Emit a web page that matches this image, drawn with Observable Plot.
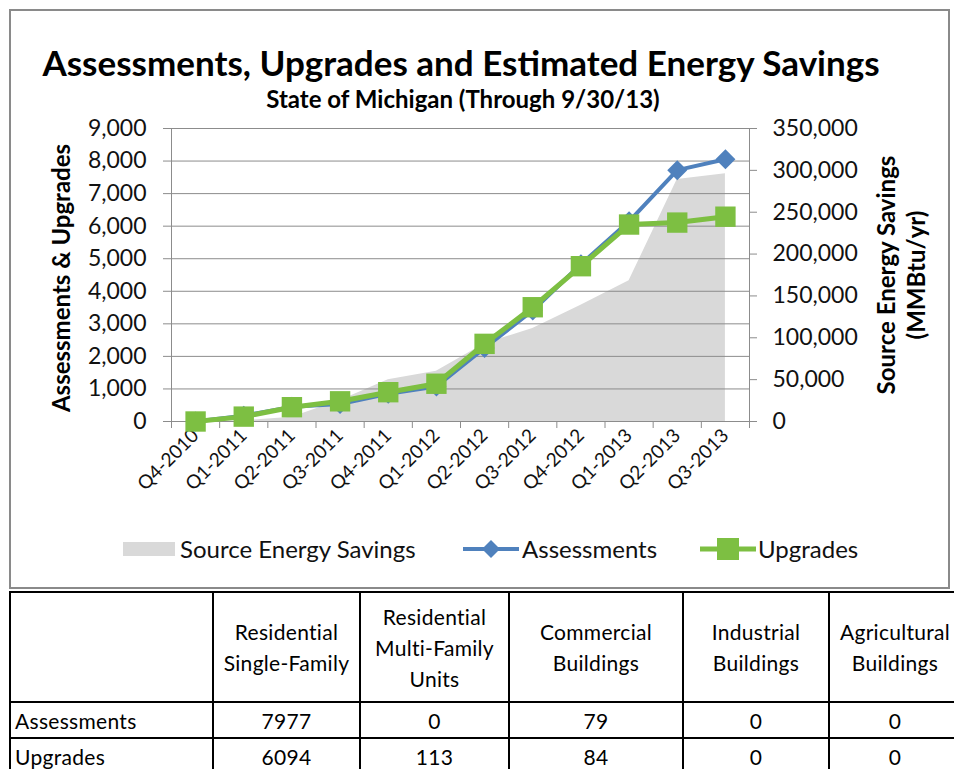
<!DOCTYPE html>
<html><head><meta charset="utf-8">
<script src="https://cdn.jsdelivr.net/npm/d3@7"></script>
<script src="https://cdn.jsdelivr.net/npm/@observablehq/plot@0.6"></script>
<style>
html,body{margin:0;padding:0;background:#fff;}
body{width:954px;height:769px;overflow:hidden;font-family:Lato,"Open Sans",sans-serif;color:#111;}
#wrap{position:relative;width:954px;height:769px;overflow:hidden;}
#frame{position:absolute;left:9px;top:9px;width:937px;height:576px;border:2px solid #8a8a8a;}
#title{position:absolute;left:0;top:42px;width:922px;text-align:center;font-weight:bold;font-size:35px;line-height:40px;color:#000;}
#subtitle{position:absolute;left:0;top:85px;width:926px;text-align:center;font-weight:bold;font-size:24px;line-height:28px;color:#000;}
#chart{position:absolute;left:0;top:0;}
#legend{position:absolute;left:0;top:533px;width:954px;height:32px;font-size:24px;line-height:32px;color:#111;}
.li{position:absolute;top:0;white-space:nowrap;}
#tbl{position:absolute;left:9px;top:591px;border-collapse:collapse;font-size:21px;color:#000;table-layout:fixed;}
#tbl td{border:2.5px solid #000;padding:0;text-align:center;line-height:31px;letter-spacing:0.3px;}
#tbl td.rl{text-align:left;padding-left:4px;}
</style></head>
<body><div id="wrap">
<div id="frame"></div>
<div id="chart"></div>
<div id="title"></div>
<div id="subtitle"></div>
<div id="legend"></div>
<table id="tbl"></table>
</div>
<script>
const titleText = "Assessments, Upgrades and Estimated Energy Savings";
const subtitleText = "State of Michigan (Through 9/30/13)";
const quarters = ["Q4-2010","Q1-2011","Q2-2011","Q3-2011","Q4-2011","Q1-2012","Q2-2012","Q3-2012","Q4-2012","Q1-2013","Q2-2013","Q3-2013"];
const assessments = [0, 180, 450, 540, 850, 1075, 2260, 3410, 4830, 6150, 7720, 8056];
const upgrades = [0, 150, 440, 620, 900, 1160, 2385, 3510, 4770, 6050, 6110, 6291];
const savings = [0, 1000, 5000, 25000, 50000, 60000, 93000, 111000, 139000, 168000, 289000, 296000];
const leftTicks = [0,1000,2000,3000,4000,5000,6000,7000,8000,9000];
const rightTicks = [0,50000,100000,150000,200000,250000,300000,350000];
const leftTitle = "Assessments & Upgrades";
const rightTitle = ["Source Energy Savings", "(MMBtu/yr)"];
const legendLabels = ["Source Energy Savings", "Assessments", "Upgrades"];
const tableCols = ["Residential\nSingle-Family","Residential\nMulti-Family\nUnits","Commercial\nBuildings","Industrial\nBuildings","Agricultural\nBuildings"];
const tableRowNames = ["Assessments","Upgrades"];
const tableAssess = [7977, 0, 79, 0, 0];
const tableUpgr = [6094, 113, 84, 0, 0];

const BLUE = "#4f81bd", GREEN = "#7dbf42", AREA = "#d9d9d9", GRID = "#8c8c8c";
const leftMax = leftTicks[leftTicks.length-1], rightMax = rightTicks[rightTicks.length-1];
const k = leftMax / rightMax;
const n = quarters.length;
const rows = quarters.map((q,i)=>({i, q, a: assessments[i], u: upgrades[i], s: savings[i]*k}));
const idx = quarters.map((q,i)=>i);
const bounds = quarters.map((q,i)=>i-0.5).concat([n-0.5]);
const fmt = d3.format(",");

const chart = Plot.plot({
  width: 954, height: 590,
  marginLeft: 171, marginRight: 205, marginTop: 128, marginBottom: 169,
  x: {type: "linear", domain: [-0.5, n-0.5]},
  y: {domain: [0, leftMax]},
  style: {fontFamily: "Lato, sans-serif", fontSize: "23px", color: "#111", background: "transparent", overflow: "visible"},
  marks: [
    Plot.areaY(rows, {x: "i", y: "s", fill: AREA}),
    Plot.ruleY(leftTicks, {stroke: GRID, strokeWidth: 1}),
    Plot.ruleX([bounds[0], bounds[bounds.length-1]], {stroke: GRID, strokeWidth: 1}),
    Plot.axisY({ticks: leftTicks, tickSize: 8, tickPadding: 17, tickFormat: fmt, label: null, stroke: GRID, fill: "#111", fontSize: 23}),
    Plot.axisY({anchor: "right", ticks: rightTicks.map(v=>v*k), tickSize: 7, tickPadding: 16, tickFormat: v => fmt(Math.round(v/k)), label: null, stroke: GRID, fill: "#111", fontSize: 23}),
    Plot.axisX({ticks: bounds, tickSize: 7, tickFormat: () => "", label: null, stroke: GRID}),
    Plot.axisX({ticks: idx, tickSize: 0, tickPadding: 11, tickRotate: -45, tickFormat: i => quarters[i], label: null, fill: "#111", fontSize: 19}),
    Plot.text([leftTitle], {frameAnchor: "left", rotate: -90, dx: -109, dy: 3, textAnchor: "middle", lineAnchor: "middle", fontWeight: "bold", fontSize: 24, fill: "#000"}),
    Plot.text([rightTitle[0]], {frameAnchor: "right", rotate: -90, dx: 138, textAnchor: "middle", lineAnchor: "middle", fontWeight: "bold", fontSize: 24, fill: "#000"}),
    Plot.text([rightTitle[1]], {frameAnchor: "right", rotate: -90, dx: 168, textAnchor: "middle", lineAnchor: "middle", fontWeight: "bold", fontSize: 24, fill: "#000"}),
    Plot.line(rows, {x: "i", y: "a", stroke: BLUE, strokeWidth: 4}),
    Plot.dot(rows, {x: "i", y: "a", symbol: "diamond2", r: 9, fill: BLUE}),
    Plot.line(rows, {x: "i", y: "u", stroke: GREEN, strokeWidth: 5}),
    Plot.dot(rows, {x: "i", y: "u", symbol: "square", r: 11.5, fill: GREEN})
  ]
});
document.getElementById("chart").appendChild(chart);
document.getElementById("title").textContent = titleText;
document.getElementById("subtitle").textContent = subtitleText;

// legend
const lg = document.getElementById("legend");
lg.innerHTML =
  `<div class="li" style="left:123px;top:9px;width:52px;height:14px;background:${AREA}"></div>` +
  `<div class="li" style="left:180px">${legendLabels[0]}</div>` +
  `<svg class="li" style="left:462px;top:4px" width="58" height="24"><line x1="1" x2="57" y1="12" y2="12" stroke="${BLUE}" stroke-width="4"/><path d="M29,3 L38,12 L29,21 L20,12Z" fill="${BLUE}"/></svg>` +
  `<div class="li" style="left:522px">${legendLabels[1]}</div>` +
  `<svg class="li" style="left:699px;top:4px" width="58" height="24"><line x1="1" x2="57" y1="12" y2="12" stroke="${GREEN}" stroke-width="5"/><rect x="18" y="1" width="22" height="22" fill="${GREEN}"/></svg>` +
  `<div class="li" style="left:758px">${legendLabels[2]}</div>`;

// table
const widths = [203, 147, 149, 174, 146, 132];
const tbl = document.getElementById("tbl");
let html = "<colgroup>" + widths.map(w=>`<col style="width:${w}px">`).join("") + "</colgroup>";
html += `<tr style="height:110px"><td></td>` + tableCols.map(c=>`<td>${c.split("\n").join("<br>")}</td>`).join("") + "</tr>";
html += `<tr style="height:36px"><td class="rl">${tableRowNames[0]}</td>` + tableAssess.map(v=>`<td>${v}</td>`).join("") + "</tr>";
html += `<tr style="height:36px"><td class="rl">${tableRowNames[1]}</td>` + tableUpgr.map(v=>`<td>${v}</td>`).join("") + "</tr>";
tbl.innerHTML = html;
tbl.style.width = widths.reduce((a,b)=>a+b,0) + "px";
</script>
</body></html>
